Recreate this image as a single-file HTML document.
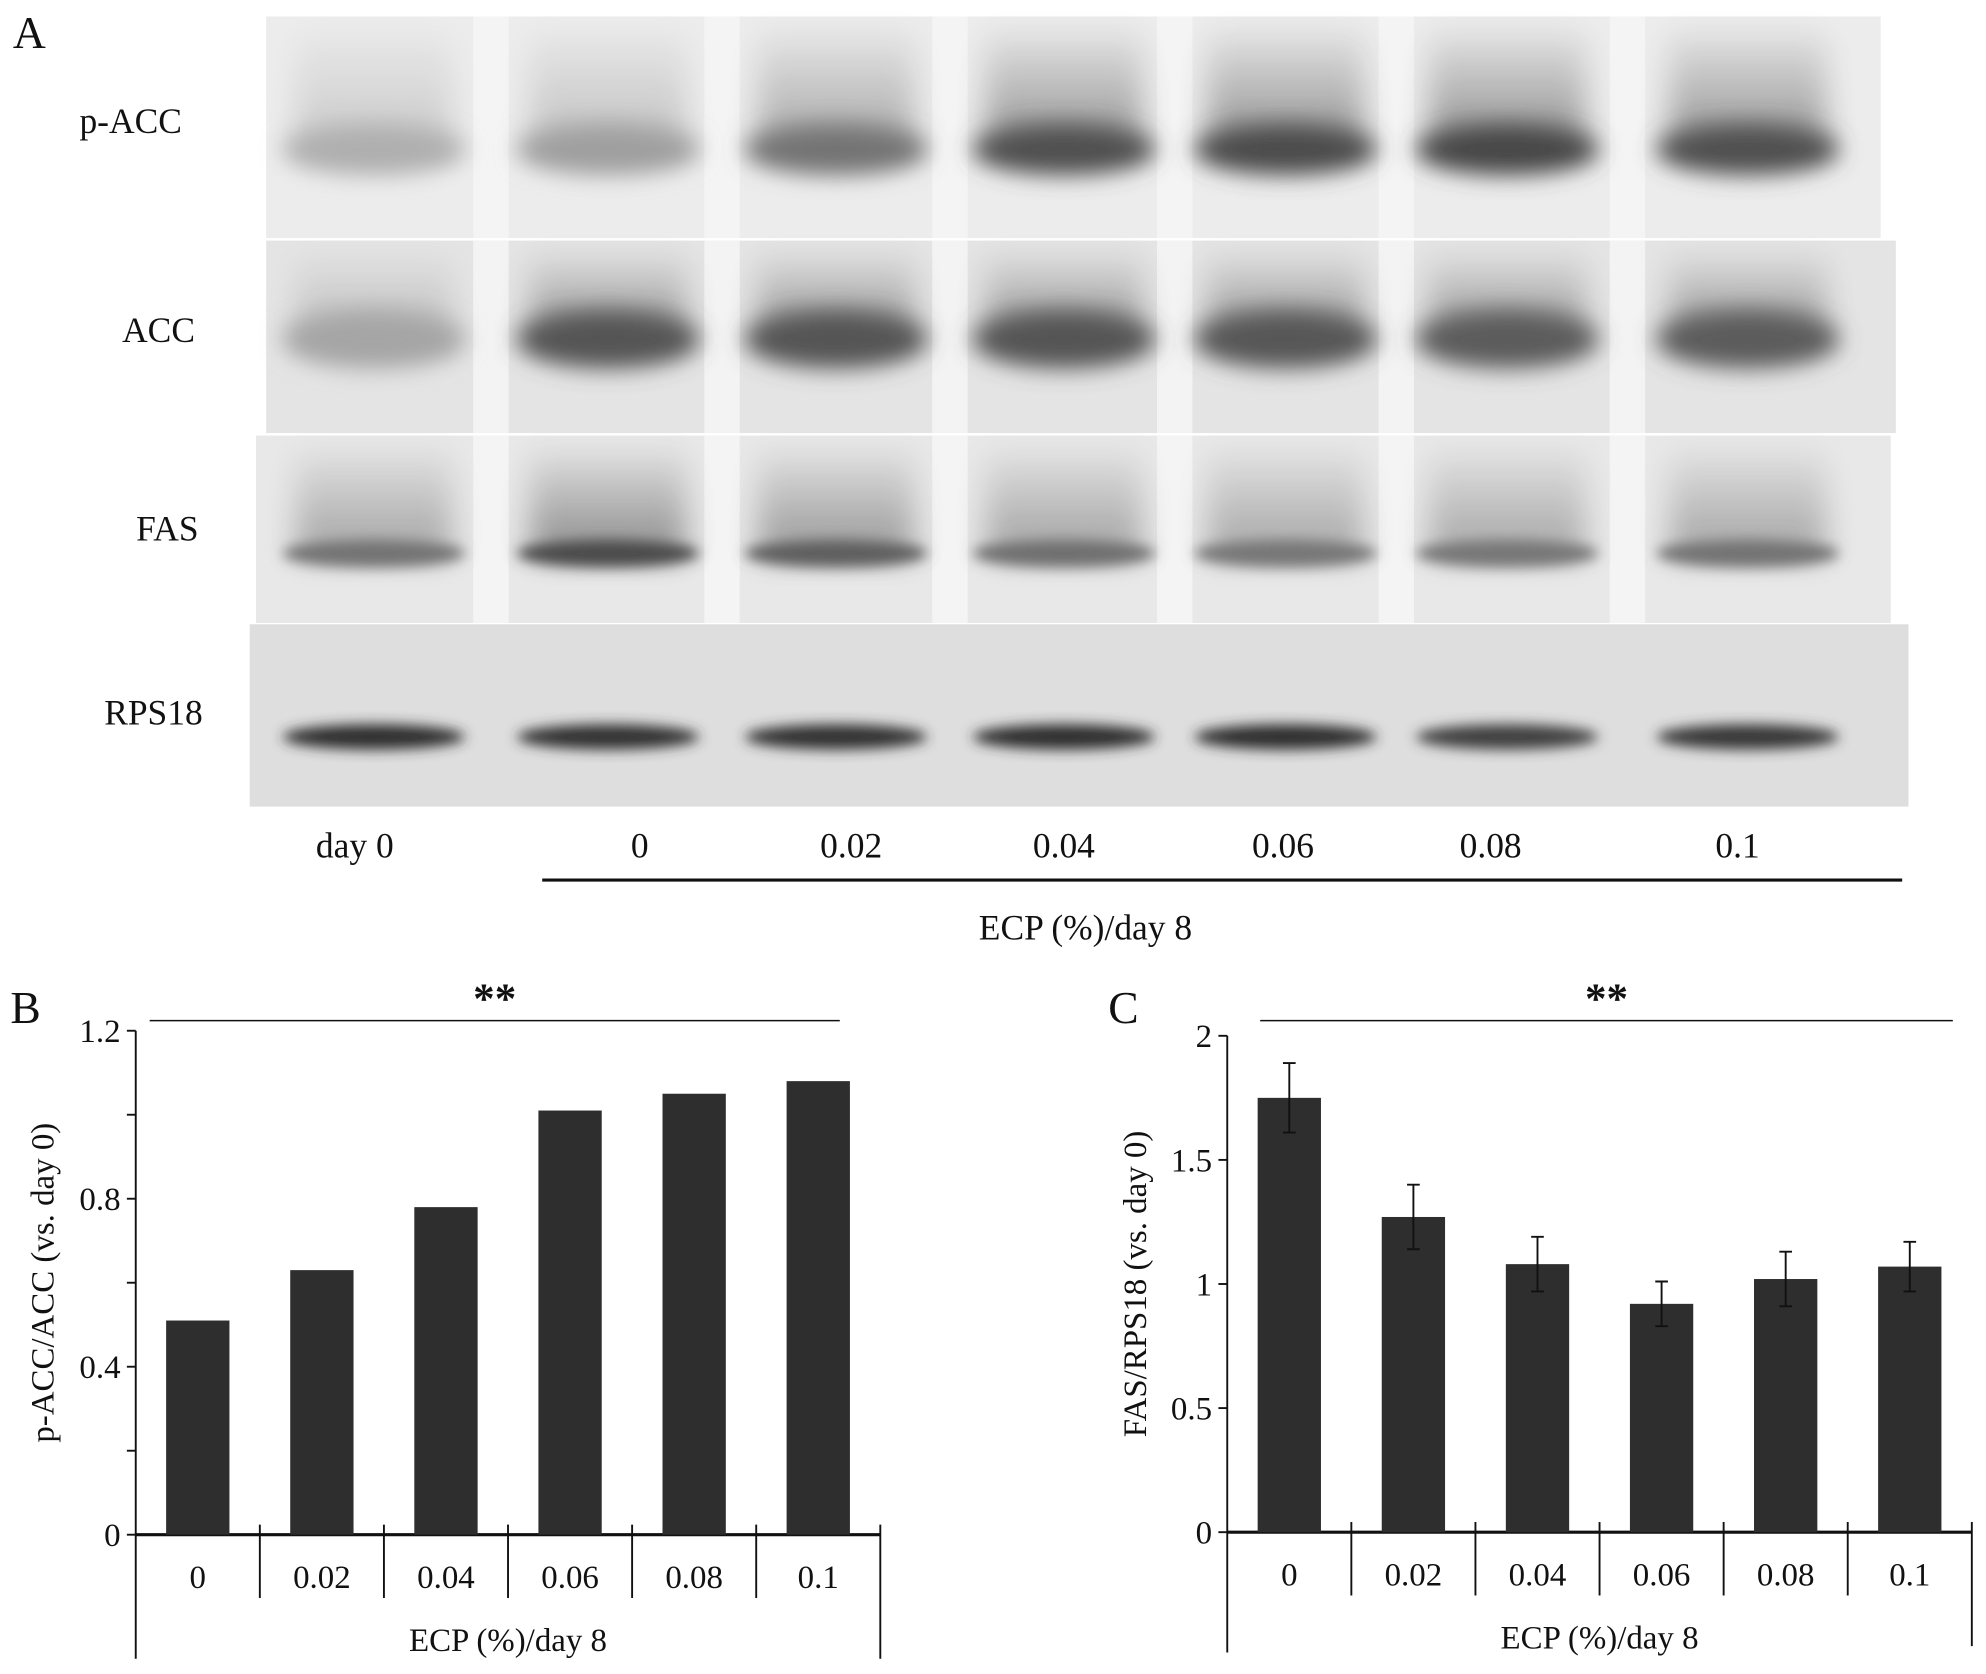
<!DOCTYPE html>
<html><head><meta charset="utf-8"><style>
html,body{margin:0;padding:0;background:#fff}
svg{display:block}
text{font-family:"Liberation Serif",serif;fill:#111}
</style></head><body>
<svg id="fig" width="1986" height="1674" viewBox="0 0 1568 1322" xmlns="http://www.w3.org/2000/svg">
<defs>
<filter id="blur" x="-30%" y="-50%" width="160%" height="200%"><feGaussianBlur stdDeviation="9"/></filter>
<filter id="blur2" x="-20%" y="-50%" width="140%" height="200%"><feGaussianBlur stdDeviation="5"/></filter>
<filter id="blur3" x="-30%" y="-30%" width="160%" height="160%"><feGaussianBlur stdDeviation="12"/></filter>
<linearGradient id="smearGrad" x1="0" y1="0" x2="0" y2="1">
<stop offset="0" stop-color="#000" stop-opacity="0.05"/>
<stop offset="1" stop-color="#000" stop-opacity="0.5"/>
</linearGradient>
</defs>
<g id="blot"></g>
<g id="chartB"></g>
<g id="chartC"></g>
</svg>
<script>
const NS="http://www.w3.org/2000/svg";
// ---- data ----
const categories=["0","0.02","0.04","0.06","0.08","0.1"];
const bValues=[0.51,0.63,0.78,1.01,1.05,1.08];
const bTicks=[0,0.4,0.8,1.2];
const bMinorTicks=[0.2,0.6,1.0];
const cValues=[1.75,1.27,1.08,0.92,1.02,1.07];
const cErrors=[0.14,0.13,0.11,0.09,0.11,0.10];
const cTicks=[0,0.5,1,1.5,2];
const blotLaneLabels=["day 0","0","0.02","0.04","0.06","0.08","0.1"];
const blotRows=["p-ACC","ACC","FAS","RPS18"];
const pAccIntensity=[0.3,0.38,0.6,0.78,0.8,0.82,0.78];
const accIntensity=[0.35,0.75,0.75,0.75,0.74,0.72,0.72];
const fasIntensity=[0.6,0.8,0.7,0.62,0.58,0.58,0.6];
const rpsIntensity=[0.95,0.92,0.92,0.95,0.95,0.85,0.9];

function mk(parent,tag,attrs,txt){const e=document.createElementNS(NS,tag);for(const k in attrs)e.setAttribute(k,attrs[k]);if(txt!==undefined)e.textContent=txt;parent.appendChild(e);return e;}

// ---- Blot ----
const blot=document.getElementById('blot');
const lanes=[295,480,660,840,1015,1190,1380];
const panels=[
 {x:210,y:13,w:1275,h:175,bg:"#ececec",by:118,bh:40,int:pAccIntensity,ly:95,lx:103,smear:true},
 {x:210,y:190,w:1287,h:152,bg:"#e4e4e4",by:268,bh:46,int:accIntensity,ly:260,lx:125,smear:true},
 {x:202,y:344,w:1291,h:148,bg:"#e8e8e8",by:437,bh:22,int:fasIntensity,ly:417,lx:132,smear:true},
 {x:197,y:493,w:1310,h:144,bg:"#dedede",by:582,bh:20,int:rpsIntensity,ly:562,lx:121,smear:false}
];
let t=mk(blot,'text',{x:10,y:38,'font-size':36});t.textContent="A";

panels.forEach((p,pi)=>{
 const r=mk(blot,'rect',{x:p.x,y:p.y,width:p.w,height:p.h,fill:p.bg});
 
 
 if(p.smear){
  for(let i=0;i<lanes.length-1;i++){
   const gx=(lanes[i]+lanes[i+1])/2;
   mk(blot,'rect',{x:gx-14,y:p.y,width:28,height:p.h,fill:'#f6f6f6',opacity:0.8});
  }
 }
 lanes.forEach((lx,i)=>{
  const v=p.int[i];const g=Math.round(235-200*v);
  if(p.smear){
   mk(blot,'rect',{x:lx-62,y:p.y+12,width:124,height:p.by-p.y-10,fill:'url(#smearGrad)',opacity:v,filter:'url(#blur3)'});
  }
  const e=mk(blot,'ellipse',{cx:lx,cy:p.by,rx:72,ry:p.bh/2,fill:`rgb(${g},${g},${g})`,filter:pi<2?'url(#blur)':'url(#blur2)'});
  
  
 });
 const l=mk(blot,'text',{x:p.lx,y:p.ly+10,'font-size':28,'text-anchor':'middle'},blotRows[pi]);
 
 
});
blotLaneLabels.forEach((s,i)=>{
 const xs=[280,505,672,840,1013,1177,1372];
 const l=mk(blot,'text',{x:xs[i],y:677,'font-size':28,'text-anchor':'middle'},s);
 
 
});
mk(blot,'line',{x1:428,y1:695,x2:1502,y2:695,stroke:'#111','stroke-width':2.5});
t=mk(blot,'text',{x:857,y:742,'font-size':28,'text-anchor':'middle'},"ECP (%)/day 8");


// ---- Bar chart helper ----
function barChart(g,o){
 const y=v=>o.y0-(v/o.max)*(o.y0-o.ytop);
 const n=o.values.length, cw=(o.xr-o.xl)/n;
 const x=i=>o.xl+cw*(i+0.5);
 mk(g,'line',{x1:o.xl,y1:o.ytop,x2:o.xl,y2:o.bottom,stroke:'#111','stroke-width':1.5});
 mk(g,'line',{x1:o.xl,y1:o.y0,x2:o.xr,y2:o.y0,stroke:'#111','stroke-width':2.5});
 mk(g,'line',{x1:o.xr,y1:o.y0-8,x2:o.xr,y2:o.rbottom,stroke:'#111','stroke-width':1.5});
 for(let i=1;i<n;i++){const dx=o.xl+cw*i;mk(g,'line',{x1:dx,y1:o.y0-8,x2:dx,y2:o.y0+50,stroke:'#111','stroke-width':1.5});}
 o.ticks.forEach(v=>{
  mk(g,'line',{x1:o.xl-7,y1:y(v),x2:o.xl,y2:y(v),stroke:'#111','stroke-width':1.5});
  const tl=mk(g,'text',{x:o.xl-12,y:y(v)+9,'font-size':26,'text-anchor':'end'},String(v));
  
 });
 (o.minor||[]).forEach(v=>mk(g,'line',{x1:o.xl-7,y1:y(v),x2:o.xl,y2:y(v),stroke:'#111','stroke-width':1.5}));
 o.values.forEach((v,i)=>{
  const b=mk(g,'rect',{x:x(i)-25,y:y(v),width:50,height:o.y0-y(v),fill:'#2e2e2e'});
  
  
  if(o.errors){
   const e=o.errors[i];
   const el=mk(g,'path',{d:`M${x(i)},${y(v+e)}V${y(v-e)}M${x(i)-5},${y(v+e)}H${x(i)+5}M${x(i)-5},${y(v-e)}H${x(i)+5}`,stroke:'#111','stroke-width':1.5,fill:'none'});
   
   
  }
  const cl=mk(g,'text',{x:x(i),y:o.y0+42,'font-size':26,'text-anchor':'middle'},categories[i]);
  
 });
 const xt=mk(g,'text',{x:(o.xl+o.xr)/2,y:o.y0+92,'font-size':26,'text-anchor':'middle'},"ECP (%)/day 8");
 
 const yt=mk(g,'text',{x:0,y:0,'font-size':26,'text-anchor':'middle',transform:`translate(${o.ylx},${(o.ytop+o.y0)/2}) rotate(-90)`},o.ylabel);
 
 mk(g,'line',{x1:o.sig[0],y1:806,x2:o.sig[1],y2:806,stroke:'#111','stroke-width':1.2});
 const st=mk(g,'text',{x:(o.sig[0]+o.sig[1])/2,y:800,'font-size':34,'font-weight':'bold','text-anchor':'middle','font-family':'Liberation Sans'},"**");
 
 const pl=mk(g,'text',{x:o.letter[0],y:o.letter[1],'font-size':36},o.letterText);
 
}
barChart(document.getElementById('chartB'),{values:bValues,ticks:bTicks,minor:bMinorTicks,max:1.2,xl:107,xr:695,y0:1212,ytop:814,bottom:1310,rbottom:1310,ylx:42,ylabel:"p-ACC/ACC (vs. day 0)",sig:[118,663],letter:[8,808],letterText:"B"});
barChart(document.getElementById('chartC'),{values:cValues,errors:cErrors,ticks:cTicks,max:2,xl:969,xr:1557,y0:1210,ytop:818,bottom:1305,rbottom:1300,ylx:905,ylabel:"FAS/RPS18 (vs. day 0)",sig:[995,1542],letter:[875,808],letterText:"C"});
</script>
</body></html>
